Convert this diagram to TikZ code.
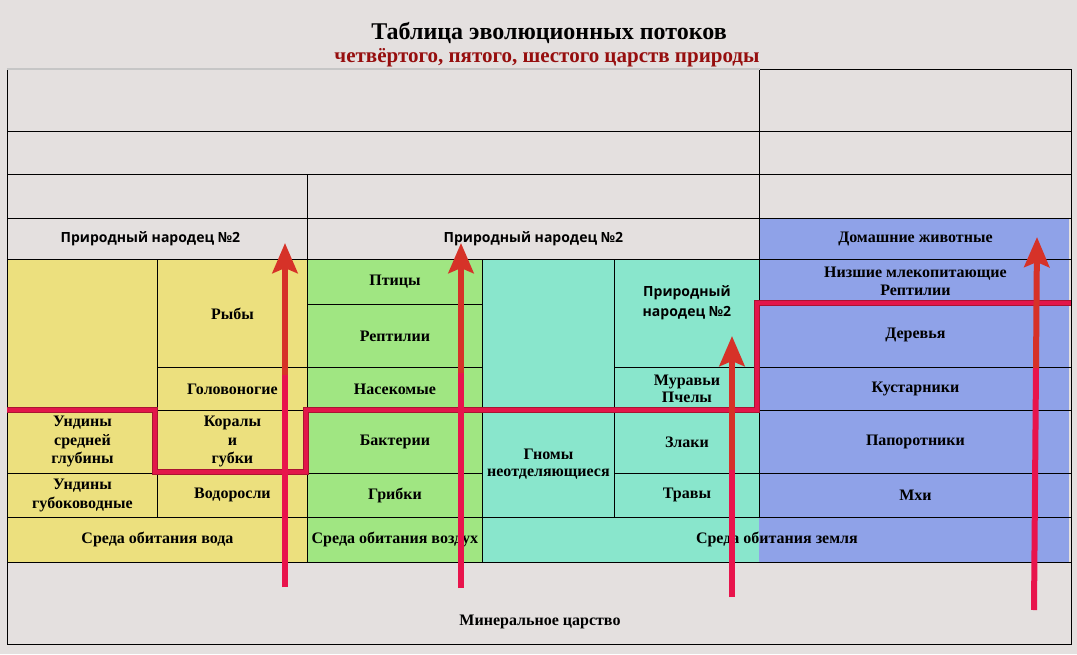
\documentclass[tikz,border=0pt]{standalone}
\usepackage{fontspec}
\setmainfont{Liberation Serif}
\newfontfamily\hdrsans{Open Sans}
\usetikzlibrary{arrows.meta}

\definecolor{bgpage}{RGB}{228,224,223}
\definecolor{yel}{RGB}{236,224,126}
\definecolor{grn}{RGB}{160,230,130}
\definecolor{tea}{RGB}{137,230,204}
\definecolor{blu}{RGB}{143,162,232}
\definecolor{redline}{RGB}{226,22,74}
\definecolor{rededge}{RGB}{170,20,50}
\definecolor{arrowred}{RGB}{214,50,40}
\definecolor{arrowpink}{RGB}{232,20,76}
\definecolor{titlered}{RGB}{150,14,14}

\begin{document}
\begin{tikzpicture}[x=1pt, y=-1pt,
  cell/.style={draw, line width=0.9pt, anchor=north west, inner sep=0pt, align=center, font=\fontsize{16}{18.5}\selectfont\bfseries},
  hdr/.style={cell, font=\hdrsans\fontsize{14}{20}\selectfont\bfseries},
  stepline/.style={line width=4.5pt, draw=redline, line join=miter},
  stepedge/.style={line width=5.5pt, draw=rededge, line join=miter},
  flow/.style={line width=6pt, draw=arrowred, -{Stealth[length=30pt, width=25pt, inset=5pt]}},
  flowtail/.style={line width=6pt, draw=arrowpink}
]
\fill[bgpage] (0,0) rectangle (1077,654);

% title
\node[font=\fontsize{24}{26}\selectfont\bfseries] (title) at (549,33) {Таблица эволюционных потоков};
\node[font=\fontsize{21}{24}\selectfont\bfseries, text=titlered] (subtitle) at (547,58) {четвёртого, пятого, шестого царств природы};

% colour zones
\fill[yel] (7,259) rectangle (307,562);
\fill[grn] (307,259) rectangle (482,562);
\fill[tea] (482,259) rectangle (759,562);
\fill[blu] (759,218) rectangle (1069,562);

% upper empty rows
\node[cell, minimum width=752pt, minimum height=62pt] (r1a) at (7,69) {};
\node[cell, minimum width=312pt, minimum height=62pt] (r1b) at (759,69) {};
\node[cell, minimum width=752pt, minimum height=43pt] (r2a) at (7,131) {};
\node[cell, minimum width=312pt, minimum height=43pt] (r2b) at (759,131) {};
\node[cell, minimum width=300pt, minimum height=44pt] (r3a) at (7,174) {};
\node[cell, minimum width=452pt, minimum height=44pt] (r3b) at (307,174) {};
\node[cell, minimum width=312pt, minimum height=44pt] (r3c) at (759,174) {};
\draw[gray!45, line width=1.6pt] (r1a.north west) -- (r1a.north east);

% header row
\node[hdr, minimum width=300pt, minimum height=41pt] (hdrW) at (7,218) {\raisebox{3pt}{Природный народец №2}\hspace*{14pt}};
\node[hdr, minimum width=452pt, minimum height=41pt] (hdrA) at (307,218) {\raisebox{3pt}{Природный народец №2}};
\node[cell, minimum width=312pt, minimum height=41pt] (domash) at (759,218) {Домашние животные};

% water
\node[cell, minimum width=150pt, minimum height=151pt] (undEmpty) at (7,259) {};
\node[cell, minimum width=150pt, minimum height=108pt] (ryby) at (157,259) {Рыбы};
\node[cell, minimum width=150pt, minimum height=43pt] (golov) at (157,367) {Головоногие};
\node[cell, minimum width=150pt, minimum height=63pt] (undSred) at (7,410) {Ундины\\средней\\глубины};
\node[cell, minimum width=150pt, minimum height=63pt] (koraly) at (157,410) {Коралы\\и\\губки};
\node[cell, minimum width=150pt, minimum height=44pt] (undGlub) at (7,473) {Ундины\\губоководные};
\node[cell, minimum width=150pt, minimum height=44pt] (vodor) at (157,473) {Водоросли};
\node[cell, minimum width=300pt, minimum height=45pt] (sredaV) at (7,517) {Среда обитания вода};

% air
\node[cell, minimum width=175pt, minimum height=45pt] (ptitsy) at (307,259) {Птицы};
\node[cell, minimum width=175pt, minimum height=63pt] (reptA) at (307,304) {Рептилии};
\node[cell, minimum width=175pt, minimum height=43pt] (nasek) at (307,367) {Насекомые};
\node[cell, minimum width=175pt, minimum height=63pt] (bakt) at (307,410) {Бактерии};
\node[cell, minimum width=175pt, minimum height=44pt] (gribki) at (307,473) {Грибки};
\node[cell, minimum width=175pt, minimum height=45pt] (sredaA) at (307,517) {Среда обитания воздух};

% earth, teal part
\node[cell, minimum width=132pt, minimum height=151pt] (gnomEmpty) at (482,259) {};
\node[cell, minimum width=132pt, minimum height=107pt, font=\fontsize{16}{17}\selectfont\bfseries] (gnomy) at (482,410) {Гномы\\неотделяющиеся};
\node[hdr, minimum width=145pt, minimum height=108pt] (narodT) at (614,259) {Природный\\народец №2\\[4pt]};
\node[cell, minimum width=145pt, minimum height=43pt, font=\fontsize{16}{17}\selectfont\bfseries] (muravyi) at (614,367) {Муравьи\\Пчелы};
\node[cell, minimum width=145pt, minimum height=63pt] (zlaki) at (614,410) {Злаки};
\node[cell, minimum width=145pt, minimum height=44pt] (travy) at (614,473) {Травы};

% earth, blue part
\node[cell, minimum width=312pt, minimum height=44pt, font=\fontsize{16}{18}\selectfont\bfseries] (nizsh) at (759,259) {Низшие млекопитающие\\Рептилии};
\node[cell, minimum width=312pt, minimum height=64pt] (derev) at (759,303) {Деревья};
\node[cell, minimum width=312pt, minimum height=43pt] (kust) at (759,367) {Кустарники};
\node[cell, minimum width=312pt, minimum height=63pt] (paporot) at (759,410) {Папоротники};
\node[cell, minimum width=312pt, minimum height=44pt] (mhi) at (759,473) {Мхи};
\node[cell, minimum width=589pt, minimum height=45pt] (sredaZ) at (482,517) {Среда обитания земля};

% mineral kingdom
\node[cell, minimum width=1064pt, minimum height=82pt] (mineral) at (7,562) {};
\node[font=\fontsize{16}{18}\selectfont\bfseries] (mineralTxt) at (540,622) {Минеральное царство};

% boundary line
\draw[stepedge] (7,410) -- (155,410) -- (155,472) -- (306,472) -- (306,410) -- (757,410) -- (757,303) -- (1071,303);
\draw[stepline] (7,410) -- (155,410) -- (155,472) -- (306,472) -- (306,410) -- (757,410) -- (757,303) -- (1071,303);

% flows
\coordinate (f1s) at (285,587); \coordinate (f1m) at (285,375); \coordinate (f1e) at (285,243);
\coordinate (f2s) at (461,588); \coordinate (f2m) at (461,373); \coordinate (f2e) at (461,243);
\coordinate (f3s) at (732,597); \coordinate (f3m) at (732,470); \coordinate (f3e) at (732,336);
\coordinate (f4s) at (1034,610); \coordinate (f4m) at (1036,368); \coordinate (f4e) at (1037,237);

\draw[flowtail] (f1s) -- (f1m);
\draw[flow] (f1m) -- (f1e);
\draw[flowtail] (f2s) -- (f2m);
\draw[flow] (f2m) -- (f2e);
\draw[flowtail] (f3s) -- (f3m);
\draw[flow] (f3m) -- (f3e);
\draw[flowtail] (f4s) -- (f4m);
\draw[flow] (f4m) -- (f4e);
\end{tikzpicture}
\end{document}
